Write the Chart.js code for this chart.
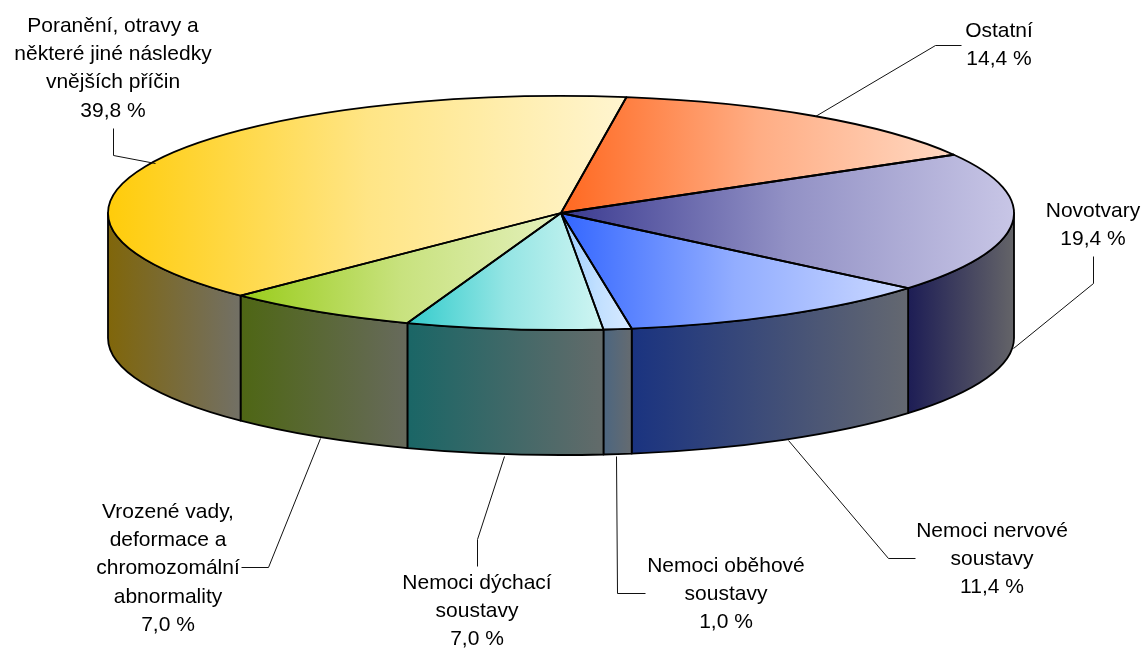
<!DOCTYPE html>
<html>
<head>
<meta charset="utf-8">
<title>Příčiny</title>
<script src="https://cdn.jsdelivr.net/npm/chart.js@4/dist/chart.umd.min.js"></script>
<style>
    html, body { margin: 0; padding: 0; background: #fff; }
    canvas { display: block; }
</style>
</head>
<body>
<canvas id="pie-3d" width="1142" height="651"></canvas>
<script>
// data, clockwise from the top edge
let categories = ['Ostatní', 'Novotvary', 'Nemoci nervové soustavy', 'Nemoci oběhové soustavy',
    'Nemoci dýchací soustavy', 'Vrozené vady, deformace a chromozomální abnormality',
    'Poranění, otravy a některé jiné následky vnějších příčin'];
let values = [14.4, 19.4, 11.4, 1.0, 7.0, 7.0, 39.8];

// colours: left and right end of each gradient
let top_from = ['#ff6820', '#3a3a90', '#3366ff', '#99ccff', '#33cccc', '#99cc1a', '#ffcc0a'];
let top_to = ['#ffd8c2', '#c8c6e6', '#ccd9ff', '#d8eaff', '#d0f5f2', '#e4f0bc', '#fff5d0'];
let wall_from = ['#80340f', '#1d1d55', '#1a3380', '#4c6680', '#1a6666', '#4e6614', '#80660a'];
let wall_to = ['#666', '#646468', '#646870', '#656b70', '#636b6a', '#676a5c', '#727066'];

// label text is broken by hand, one list per slice
let label_lines = [
    ['Ostatní'],
    ['Novotvary'],
    ['Nemoci nervové', 'soustavy'],
    ['Nemoci oběhové', 'soustavy'],
    ['Nemoci dýchací', 'soustavy'],
    ['Vrozené vady,', 'deformace a', 'chromozomální', 'abnormality'],
    ['Poranění, otravy a', 'některé jiné následky', 'vnějších příčin']
];

// label placement: centre x, first baseline, line step
let label_x = [999, 1093, 992, 726, 477, 168, 113];
let label_y = [37, 217, 537, 572, 589, 518, 32];
let line_step = 28.2;

// leader lines, from the label to the pie
let leaders = [
    [[961, 45], [935, 45], [815, 116]],
    [[1093, 256], [1093, 283], [1013, 348]],
    [[915, 558], [888, 558], [788, 440]],
    [[645, 593], [617, 593], [616, 456]],
    [[477, 566], [477, 539], [504, 456]],
    [[241, 567], [268, 567], [320, 438]],
    [[113, 128], [113, 155], [155, 163]]
];

const pie_radius = 453;
const squash = 117 / 453;
const depth = 125;
const rotation_deg = 8.3;

function slice_angles(i) {
    let total = values.reduce((a, b) => a + b, 0);
    let before = values.slice(0, i).reduce((a, b) => a + b, 0);
    let start = (rotation_deg - 90) * Math.PI / 180 + before / total * 2 * Math.PI;
    return [start, start + values[i] / total * 2 * Math.PI];
}

// horizontal extent of the arc between two angles
function arc_x_range(cx, a, b) {
    let xs = [cx + pie_radius * Math.cos(a), cx + pie_radius * Math.cos(b)];
    for (let k = -2; k <= 4; k++) {
        let t = k * Math.PI;
        if (t > a && t < b) {
            xs.push(cx + pie_radius * Math.cos(t));
        }
    }
    return [Math.min(...xs), Math.max(...xs)];
}

function side_gradient(ctx, x0, x1, from, to) {
    let grad = ctx.createLinearGradient(x0, 0, x1, 0);
    grad.addColorStop(0, from);
    grad.addColorStop(1, to);
    return grad;
}

function hex_rgb(hex) {
    let n = parseInt(hex.slice(1), 16);
    return [n >> 16 & 255, n >> 8 & 255, n & 255];
}

// the top face lightens quickly, then levels off
function top_gradient(ctx, x0, x1, from, to) {
    let a = hex_rgb(from);
    let b = hex_rgb(to);
    let mix = a.map((v, k) => Math.round(v + (b[k] - v) * 0.62));
    let grad = ctx.createLinearGradient(x0, 0, x1, 0);
    grad.addColorStop(0, from);
    grad.addColorStop(0.5, `rgb(${mix.join(',')})`);
    grad.addColorStop(1, to);
    return grad;
}

function top_color(c) {
    let area = c.chart.chartArea;
    if (!area) {
        // first pass happens before layout
        return top_from[c.dataIndex];
    }
    let cx = (area.left + area.right) / 2;
    let [a, b] = slice_angles(c.dataIndex);
    let [x0, x1] = arc_x_range(cx, a, b);
    // the apex counts too, the slice reaches the centre
    x0 = Math.min(x0, cx);
    x1 = Math.max(x1, cx);
    return top_gradient(c.chart.ctx, x0, x1, top_from[c.dataIndex], top_to[c.dataIndex]);
}

// walls under the pie, and the squash of the top face
const tilt_plugin = {
    id: 'tilt',
    beforeDatasetsDraw(chart) {
        let ctx = chart.ctx;
        let arcs = chart.getDatasetMeta(0).data;
        arcs.forEach((arc, i) => {
            let lo = Math.max(arc.startAngle, 0);
            let hi = Math.min(arc.endAngle, Math.PI);
            if (hi <= lo) {
                return;
            }
            let rx = arc.outerRadius;
            let ry = rx * squash;
            let [x0, x1] = arc_x_range(arc.x, lo, hi);
            ctx.save();
            ctx.beginPath();
            ctx.ellipse(arc.x, arc.y, rx, ry, 0, lo, hi);
            ctx.ellipse(arc.x, arc.y + depth, rx, ry, 0, hi, lo, true);
            ctx.closePath();
            ctx.fillStyle = side_gradient(ctx, x0, x1, wall_from[i], wall_to[i]);
            ctx.fill();
            ctx.lineWidth = 1.8;
            ctx.strokeStyle = '#000';
            ctx.lineJoin = 'round';
            ctx.stroke();
            ctx.restore();
        });
        let first = arcs[0];
        ctx.save();
        ctx.translate(first.x, first.y);
        ctx.scale(1, squash);
        ctx.translate(-first.x, -first.y);
    },
    afterDatasetsDraw(chart) {
        let ctx = chart.ctx;
        ctx.restore();
        // outlines go on after the scale is gone so the pen stays even
        chart.getDatasetMeta(0).data.forEach((arc) => {
            let rx = arc.outerRadius;
            ctx.save();
            ctx.beginPath();
            ctx.moveTo(arc.x, arc.y);
            ctx.ellipse(arc.x, arc.y, rx, rx * squash, 0, arc.startAngle, arc.endAngle);
            ctx.closePath();
            ctx.lineWidth = 1.8;
            ctx.strokeStyle = '#000';
            ctx.lineJoin = 'round';
            ctx.stroke();
            ctx.restore();
        });
    },
    afterDraw(chart) {
        let ctx = chart.ctx;
        ctx.save();
        ctx.lineWidth = 1;
        ctx.strokeStyle = '#111';
        leaders.forEach((pts) => {
            ctx.beginPath();
            pts.forEach((p, k) => {
                if (k == 0) {
                    ctx.moveTo(p[0] + 0.5, p[1] + 0.5);
                } else {
                    ctx.lineTo(p[0] + 0.5, p[1] + 0.5);
                }
            });
            ctx.stroke();
        });
        ctx.fillStyle = '#000';
        ctx.font = '21px "Liberation Sans", Arial, sans-serif';
        ctx.textAlign = 'center';
        ctx.textBaseline = 'alphabetic';
        label_lines.forEach((lines, i) => {
            let all = lines.concat([values[i].toFixed(1).replace('.', ',') + ' %']);
            all.forEach((line, k) => {
                ctx.fillText(line, label_x[i], label_y[i] + k * line_step);
            });
        });
        ctx.restore();
    }
};

let chart = new Chart(document.getElementById('pie-3d'), {
    type: 'pie',
    data: {
        labels: categories,
        datasets: [{
            data: values,
            backgroundColor: top_color,
            borderWidth: 0,
            clip: false
        }]
    },
    options: {
        responsive: false,
        animation: false,
        rotation: rotation_deg,
        radius: pie_radius,
        // puts the centre of the pie at 561, 213
        layout: { padding: { left: 0, top: 0, right: 20, bottom: 225 } },
        events: [],
        plugins: {
            legend: { display: false },
            title: { display: false },
            tooltip: { enabled: false }
        }
    },
    plugins: [tilt_plugin]
});
</script>
</body>
</html>
